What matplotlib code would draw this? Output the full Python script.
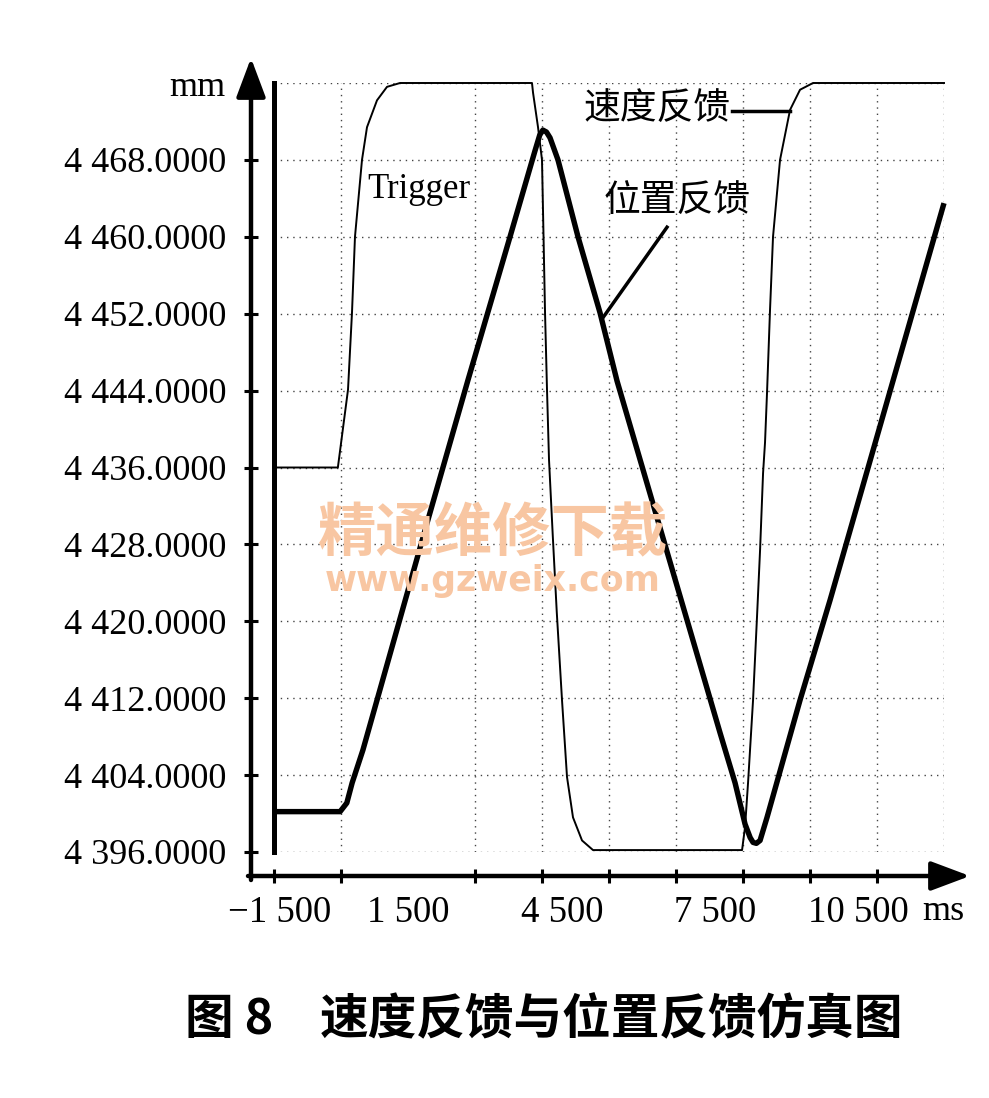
import matplotlib
matplotlib.use('Agg')
import matplotlib.pyplot as plt

# ---------------- data ----------------
# position feedback (thick curve), time in ms, value in mm
pos_t = [-1500, -20, 130, 250, 490, 1925, 2843, 3784, 4340, 4450, 4520, 4600, 4680,
         4858, 5306, 5799, 6180, 8486, 8822, 9046, 9160, 9225, 9300, 9382, 9538,
         10277, 10949, 13500]
pos_v = [4400.2, 4400.2, 4401.1, 4403.2, 4406.6, 4430.2, 4445.1, 4460.0, 4468.9, 4470.6,
         4471.1, 4470.9, 4470.3, 4468.0, 4460.0, 4452.1, 4445.0, 4408.4, 4403.2, 4398.9,
         4397.5, 4397.0, 4396.9, 4397.2, 4399.6, 4411.8, 4422.2, 4463.5]

# speed feedback (thin curve)
vel_t = [-1500, -70, 157, 246, 313, 470, 582, 806, 1030, 1321, 4276, 4299, 4411,
         4500, 4568, 4612, 4657, 4740, 4830, 4948, 5060, 5194, 5396, 5642, 8979,
         9046, 9113, 9225, 9314, 9382, 9449, 9493, 9538, 9605, 9672, 9829, 10053,
         10277, 10568, 13500]
vel_v = [4436.0, 4436.0, 4444.1, 4452.1, 4460.0, 4468.0, 4471.4, 4474.2, 4475.6, 4476.0,
         4476.0, 4475.0, 4471.4, 4468.0, 4452.1, 4444.1, 4436.8, 4429.0, 4421.0, 4411.8,
         4403.8, 4399.6, 4397.2, 4396.2, 4396.2, 4398.6, 4403.2, 4411.8, 4420.5, 4427.4,
         4435.4, 4438.6, 4443.8, 4452.4, 4460.0, 4468.0, 4473.2, 4475.3, 4476.0, 4476.0]

y_ticks = [4396, 4404, 4412, 4420, 4428, 4436, 4444, 4452, 4460, 4468, 4476]
y_tick_labels = ['4 396.0000', '4 404.0000', '4 412.0000', '4 420.0000', '4 428.0000',
                 '4 436.0000', '4 444.0000', '4 452.0000', '4 460.0000', '4 468.0000', 'mm']
x_ticks = [-1500, 0, 1500, 3000, 4500, 6000, 7500, 9000, 10500, 12000, 13500]
x_tick_labels = ['\u22121 500', '1 500', '4 500', '7 500', '10 500']
x_unit = 'ms'

# layout (label positions as typeset in the original figure)
x_label_pos = [-1366, 1500, 4948, 8373, 11575]
x_unit_pos = 13480

SERIF = 'Liberation Serif'
CJK = ['Noto Sans CJK SC', 'DejaVu Sans']

W, H = 989, 1098
fig = plt.figure(figsize=(W / 100, H / 100), dpi=100)
L, R, T, B = 274, 944, 83, 852
ax = fig.add_axes([L / W, 1 - B / H, (R - L) / W, (B - T) / H])

for s in ['top', 'right']:
    ax.spines[s].set_visible(False)
ax.spines['left'].set_position(('outward', 23 * 0.72))
ax.spines['bottom'].set_position(('outward', 24 * 0.72))
ax.spines['left'].set_color('none')
ax.spines['bottom'].set_color('none')

ax.set_xticks(x_ticks, minor=True)
ax.set_xticks(x_label_pos)
ax.set_xticklabels(x_tick_labels, fontfamily=SERIF, fontsize=26.5)
ax.set_yticks(y_ticks)
ax.set_yticklabels(y_tick_labels, fontfamily=SERIF, fontsize=26)
ax.set_xlim(-1500, 13500)
ax.set_ylim(4396, 4476)

ax.grid(which='minor', axis='x', color='#444444', linestyle=(0, (1, 3.5)), lw=1.0)
ax.grid(which='major', axis='y', color='#444444', linestyle=(0, (1, 3.5)), lw=1.0)
ax.grid(which='major', axis='x', visible=False)

ax.tick_params(axis='y', which='major', direction='inout', length=10, width=2.2, pad=13)
ax.tick_params(axis='x', which='minor', direction='inout', length=10, width=2.2)
ax.tick_params(axis='x', which='major', length=0, pad=14)

# unit label of x axis
ax.text(x_unit_pos, (B - 912) / (B - T), x_unit, fontfamily=SERIF, fontsize=26,
        ha='center', va='center', transform=ax.get_xaxis_transform(), clip_on=False)

# thick left border
ax.axvline(-1500, color='k', lw=3.6, clip_on=False, zorder=4)

# curves
ax.plot(vel_t, vel_v, color='k', lw=1.4, clip_on=False, zorder=5)
ax.plot(pos_t, pos_v, color='k', lw=3.9, clip_on=False, zorder=6,
        solid_joinstyle='round', solid_capstyle='butt')

# arrows for axes
ax_x = -23 / (R - L)
ax.annotate('', xy=(ax_x, (B - 58) / (B - T)), xytext=(ax_x, (B - 880) / (B - T)),
            xycoords='axes fraction', annotation_clip=False,
            arrowprops=dict(arrowstyle='-|>,head_length=0.8,head_width=0.3', mutation_scale=30,
                            lw=3.2, color='k', shrinkA=0, shrinkB=0))
ax_y = -24 / (B - T)
ax.annotate('', xy=((970 - L) / (R - L), ax_y), xytext=((248 - L) / (R - L), ax_y),
            xycoords='axes fraction', annotation_clip=False,
            arrowprops=dict(arrowstyle='-|>,head_length=0.8,head_width=0.3', mutation_scale=30,
                            lw=3.2, color='k', shrinkA=0, shrinkB=0))

# annotations
ax.text(582, 4464.05, 'Trigger', fontfamily=SERIF, fontsize=25, va='baseline', ha='left',
        zorder=7)
ax.text(8709, 4473.4, '速度反馈', fontfamily=CJK, fontsize=26.5, va='center', ha='right',
        zorder=7)
ax.plot([8754, 10052], [4473.1, 4473.1], color='k', lw=2.5, zorder=7)
ax.text(7522, 4463.7, '位置反馈', fontfamily=CJK, fontsize=26.5, va='center', ha='center',
        zorder=7)
ax.plot([7299, 5866], [4461.0, 4451.6], color='k', lw=2.5, zorder=7)

# watermark
fig.text(493 / W, 1 - 534 / H, '精通维修下载', fontfamily=CJK, fontsize=42, fontweight='bold',
         color='#f8c6a2', ha='center', va='center', zorder=10)
fig.text(493 / W, 1 - 581 / H, 'www.gzweix.com', fontfamily='DejaVu Sans',
         fontsize=25, fontweight='bold', color='#f8c6a2', ha='center', va='center',
         zorder=10)

# caption
fig.text(185 / W, 1 - 1020 / H, '图 8', fontfamily=CJK, fontsize=35, fontweight='bold',
         ha='left', va='center')
fig.text(320 / W, 1 - 1020 / H, '速度反馈与位置反馈仿真图', fontfamily=CJK, fontsize=35,
         fontweight='bold', ha='left', va='center')

fig.savefig('out.png', dpi=100)
